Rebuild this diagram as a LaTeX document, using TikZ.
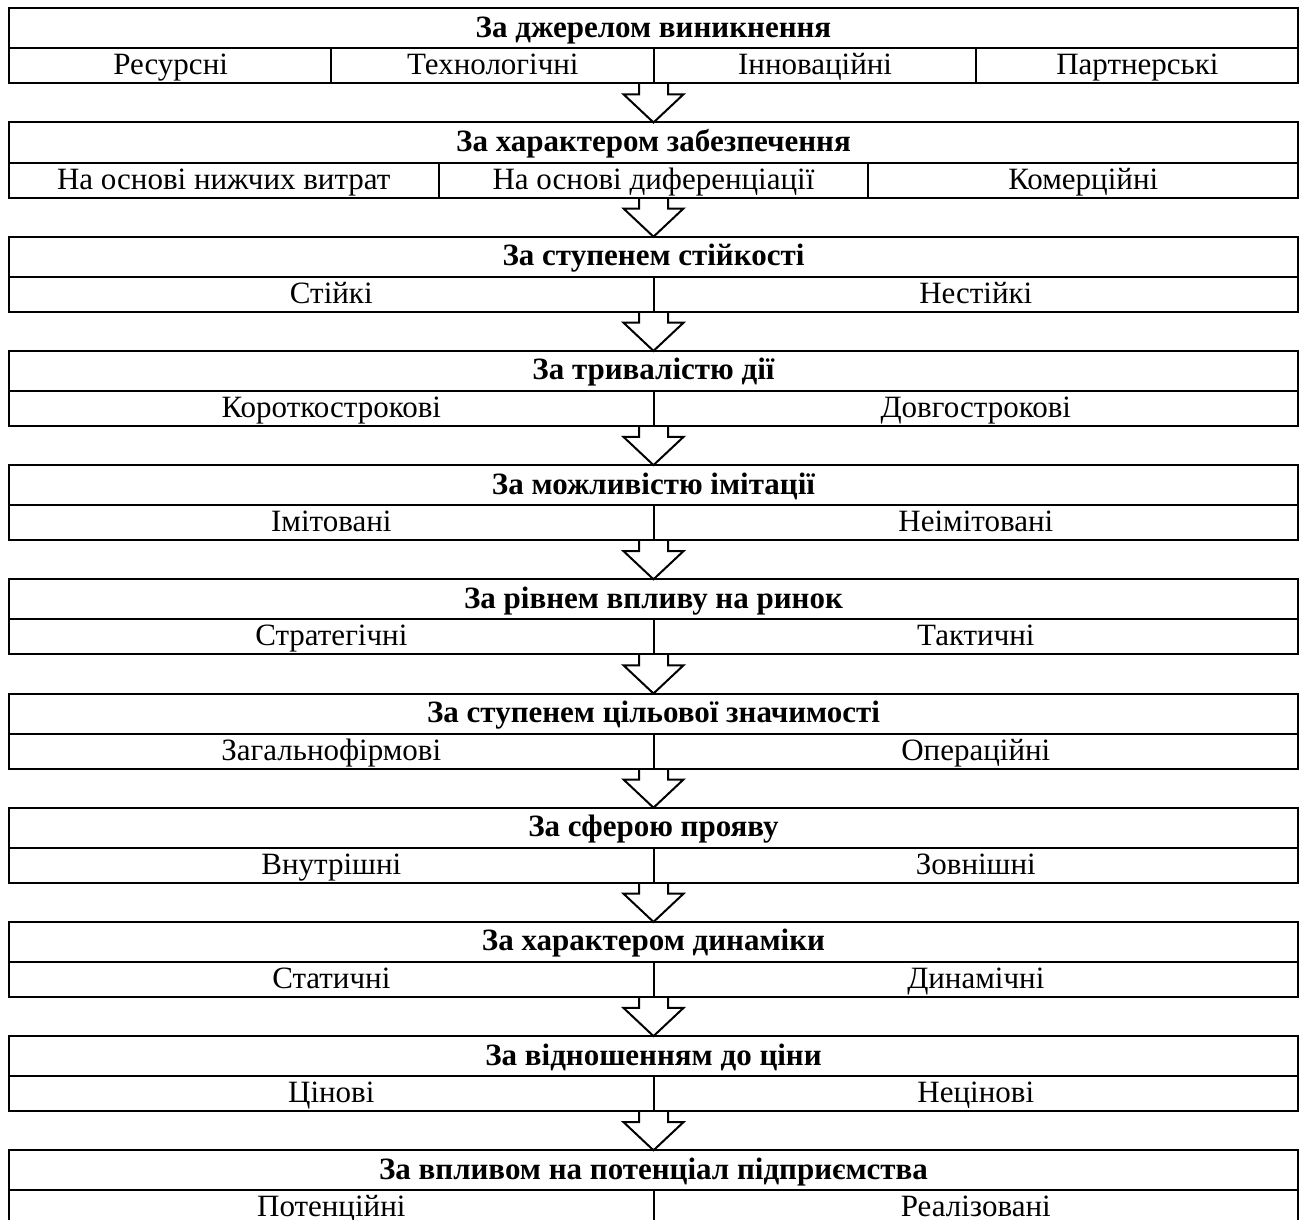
\documentclass[tikz,border=0pt]{standalone}
\usepackage{fontspec}
\setmainfont{Liberation Serif}

\begin{document}
\begin{tikzpicture}
[
  x=1pt,y=1pt,
  line width=2pt,
	head/.style={draw,outer sep=0pt,inner sep=0pt,minimum width=1289pt,minimum height=40pt,font=\fontsize{31}{36}\selectfont\bfseries,text height=22pt,text depth=4pt},
	row/.style={draw,outer sep=0pt,inner sep=0pt,minimum width=1289pt,minimum height=35pt},
	cell/.style={inner sep=0pt,font=\fontsize{31}{36}\selectfont,text height=22pt,text depth=4pt},
	blockarrow/.style={line width=2pt,line join=miter}
]
\useasboundingbox (0,0) rectangle (1303,-1220);

% block 1
\node[head] (t1) at (653.5,-28.3) {За джерелом виникнення};
\node[row] (r1) at (653.5,-65.8) {};
\node[cell] (c1a) at (170.6,-65.8) {Ресурсні};
\node[cell] (c1b) at (492.9,-65.8) {Технологічні};
\node[cell] (c1c) at (815.1,-65.8) {Інноваційні};
\node[cell] (c1d) at (1137.4,-65.8) {Партнерські};
\draw (r1.north -| 331.3,0) -- (r1.south -| 331.3,0);
\draw (r1.north) -- (r1.south);
\draw (r1.north -| 975.8,0) -- (r1.south -| 975.8,0);

% block 2
\node[head] (t2) at (653.5,-142.5) {За характером забезпечення};
\node[row] (r2) at (653.5,-180) {};
\node[cell] (c2a) at (223.8,-180) {На основі нижчих витрат};
\node[cell] (c2b) at (653.5,-180) {На основі диференціації};
\node[cell] (c2c) at (1083.2,-180) {Комерційні};
\draw (r2.north -| 438.7,0) -- (r2.south -| 438.7,0);
\draw (r2.north -| 868.3,0) -- (r2.south -| 868.3,0);

% block 3
\node[head] (t3) at (653.5,-256.7) {За ступенем стійкості};
\node[row] (r3) at (653.5,-294.2) {};
\node[cell] (c3a) at (331.3,-294.2) {Стійкі};
\node[cell] (c3b) at (975.8,-294.2) {Нестійкі};
\draw (r3.north) -- (r3.south);

% block 4
\node[head] (t4) at (653.5,-370.9) {За тривалістю дії};
\node[row] (r4) at (653.5,-408.4) {};
\node[cell] (c4a) at (331.3,-408.4) {Короткострокові};
\node[cell] (c4b) at (975.8,-408.4) {Довгострокові};
\draw (r4.north) -- (r4.south);

% block 5
\node[head] (t5) at (653.5,-485.1) {За можливістю імітації};
\node[row] (r5) at (653.5,-522.6) {};
\node[cell] (c5a) at (331.3,-522.6) {Імітовані};
\node[cell] (c5b) at (975.8,-522.6) {Неімітовані};
\draw (r5.north) -- (r5.south);

% block 6
\node[head] (t6) at (653.5,-599.3) {За рівнем впливу на ринок};
\node[row] (r6) at (653.5,-636.8) {};
\node[cell] (c6a) at (331.3,-636.8) {Стратегічні};
\node[cell] (c6b) at (975.8,-636.8) {Тактичні};
\draw (r6.north) -- (r6.south);

% block 7
\node[head] (t7) at (653.5,-713.5) {За ступенем цільової значимості};
\node[row] (r7) at (653.5,-751) {};
\node[cell] (c7a) at (331.3,-751) {Загальнофірмові};
\node[cell] (c7b) at (975.8,-751) {Операційні};
\draw (r7.north) -- (r7.south);

% block 8
\node[head] (t8) at (653.5,-827.7) {За сферою прояву};
\node[row] (r8) at (653.5,-865.2) {};
\node[cell] (c8a) at (331.3,-865.2) {Внутрішні};
\node[cell] (c8b) at (975.8,-865.2) {Зовнішні};
\draw (r8.north) -- (r8.south);

% block 9
\node[head] (t9) at (653.5,-941.9) {За характером динаміки};
\node[row] (r9) at (653.5,-979.4) {};
\node[cell] (c9a) at (331.3,-979.4) {Статичні};
\node[cell] (c9b) at (975.8,-979.4) {Динамічні};
\draw (r9.north) -- (r9.south);

% block 10
\node[head] (t10) at (653.5,-1056.1) {За відношенням до ціни};
\node[row] (r10) at (653.5,-1093.6) {};
\node[cell] (c10a) at (331.3,-1093.6) {Цінові};
\node[cell] (c10b) at (975.8,-1093.6) {Нецінові};
\draw (r10.north) -- (r10.south);

% block 11
\node[head] (t11) at (653.5,-1170.3) {За впливом на потенціал підприємства};
\node[row] (r11) at (653.5,-1207.8) {};
\node[cell] (c11a) at (331.3,-1207.8) {Потенційні};
\node[cell] (c11b) at (975.8,-1207.8) {Реалізовані};
\draw (r11.north) -- (r11.south);

% arrows
\draw[blockarrow] ([xshift=-14.5pt]r1.south) -- ++(0,-11) -- ++(-15.5,0) -- (t2.north) -- ++(30,28.2) -- ++(-15.5,0) -- ++(0,11);
\draw[blockarrow] ([xshift=-14.5pt]r2.south) -- ++(0,-11) -- ++(-15.5,0) -- (t3.north) -- ++(30,28.2) -- ++(-15.5,0) -- ++(0,11);
\draw[blockarrow] ([xshift=-14.5pt]r3.south) -- ++(0,-11) -- ++(-15.5,0) -- (t4.north) -- ++(30,28.2) -- ++(-15.5,0) -- ++(0,11);
\draw[blockarrow] ([xshift=-14.5pt]r4.south) -- ++(0,-11) -- ++(-15.5,0) -- (t5.north) -- ++(30,28.2) -- ++(-15.5,0) -- ++(0,11);
\draw[blockarrow] ([xshift=-14.5pt]r5.south) -- ++(0,-11) -- ++(-15.5,0) -- (t6.north) -- ++(30,28.2) -- ++(-15.5,0) -- ++(0,11);
\draw[blockarrow] ([xshift=-14.5pt]r6.south) -- ++(0,-11) -- ++(-15.5,0) -- (t7.north) -- ++(30,28.2) -- ++(-15.5,0) -- ++(0,11);
\draw[blockarrow] ([xshift=-14.5pt]r7.south) -- ++(0,-11) -- ++(-15.5,0) -- (t8.north) -- ++(30,28.2) -- ++(-15.5,0) -- ++(0,11);
\draw[blockarrow] ([xshift=-14.5pt]r8.south) -- ++(0,-11) -- ++(-15.5,0) -- (t9.north) -- ++(30,28.2) -- ++(-15.5,0) -- ++(0,11);
\draw[blockarrow] ([xshift=-14.5pt]r9.south) -- ++(0,-11) -- ++(-15.5,0) -- (t10.north) -- ++(30,28.2) -- ++(-15.5,0) -- ++(0,11);
\draw[blockarrow] ([xshift=-14.5pt]r10.south) -- ++(0,-11) -- ++(-15.5,0) -- (t11.north) -- ++(30,28.2) -- ++(-15.5,0) -- ++(0,11);
\end{tikzpicture}
\end{document}
